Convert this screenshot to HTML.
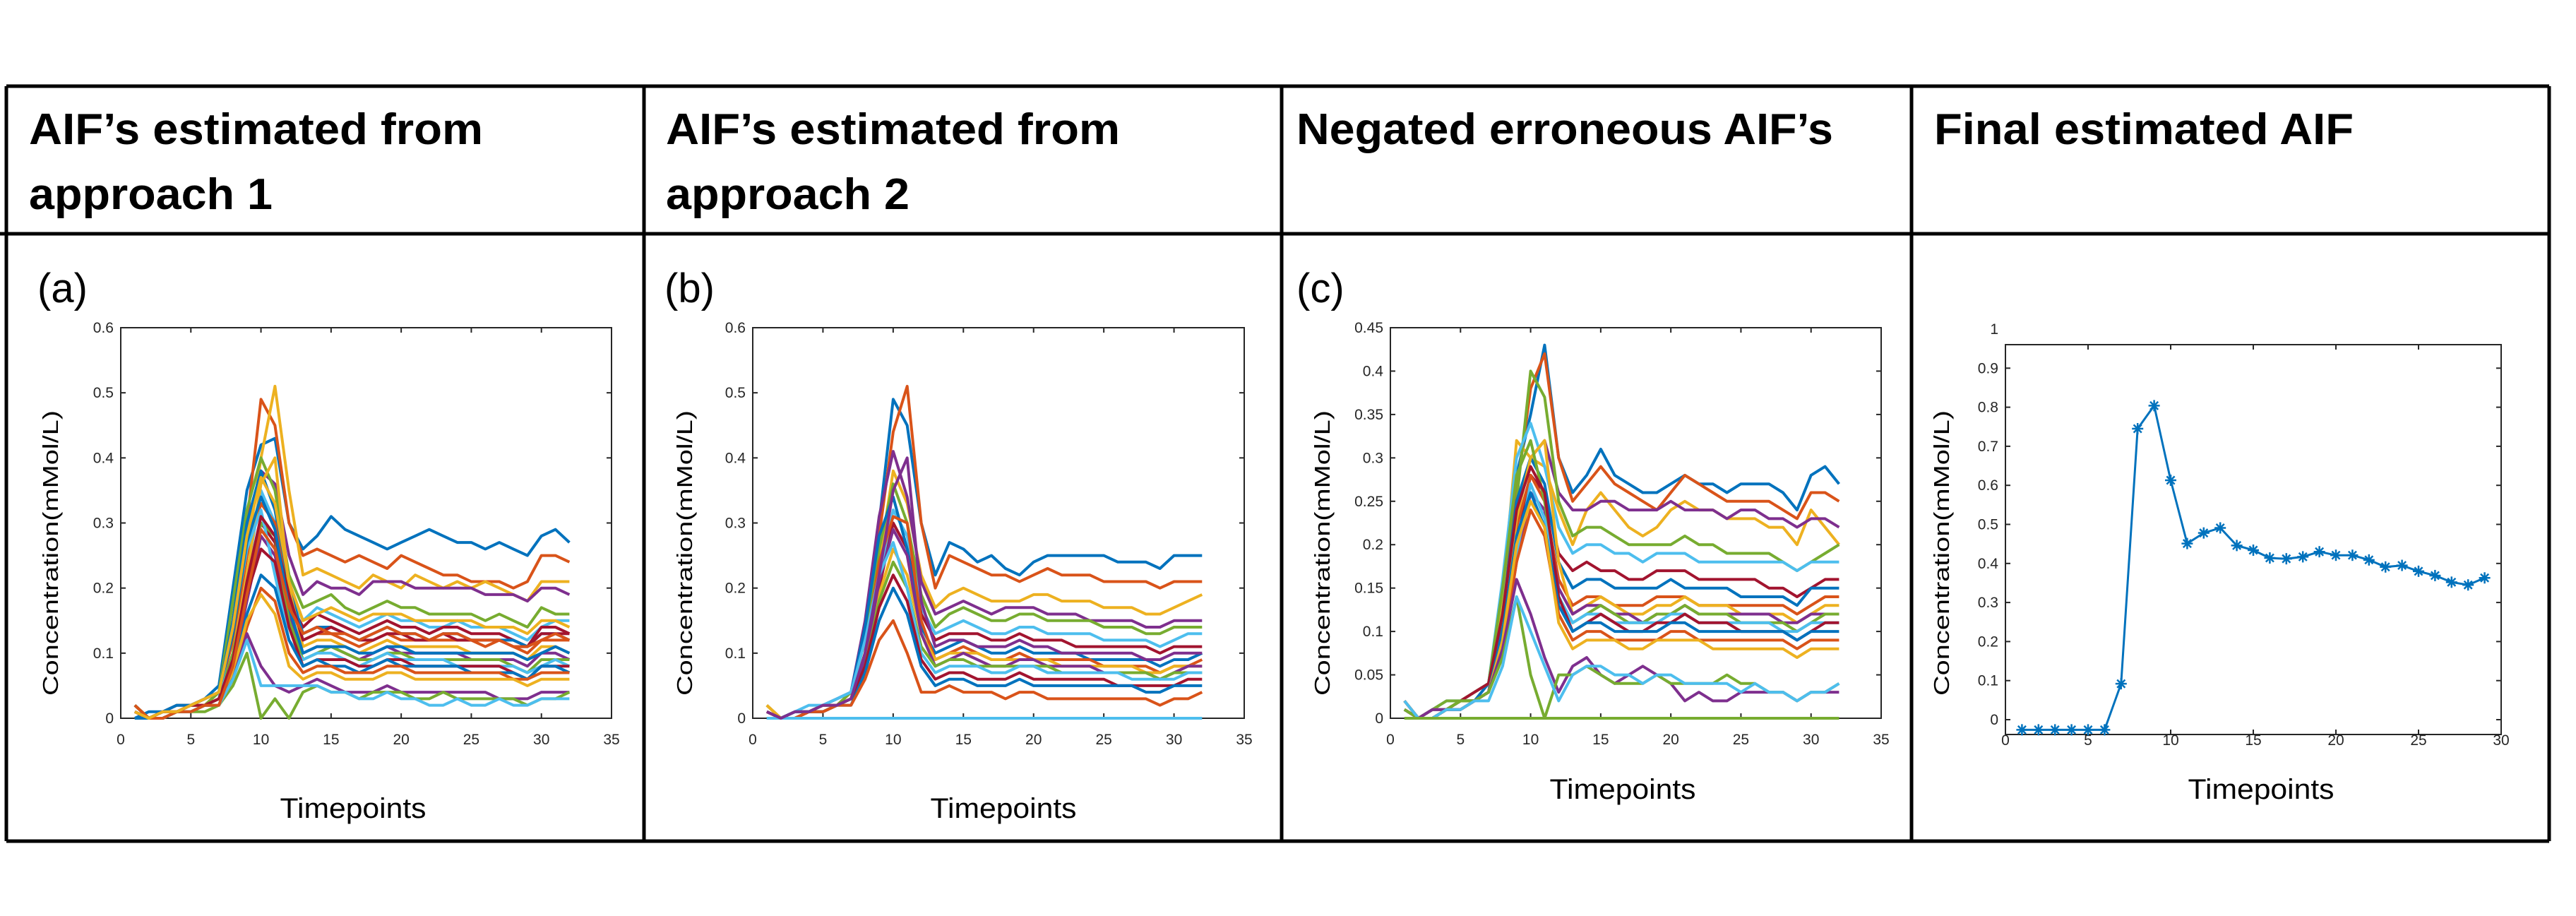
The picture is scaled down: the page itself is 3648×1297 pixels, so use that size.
<!DOCTYPE html>
<html><head><meta charset="utf-8"><style>
html,body{margin:0;padding:0;background:#fff;}
svg{display:block;}
.hdr{font-family:"Liberation Sans",sans-serif;font-weight:bold;font-size:62px;fill:#000;}
.lbl{font-family:"Liberation Sans",sans-serif;font-size:58px;fill:#000;}
.ax{font-family:"Liberation Sans",sans-serif;font-size:21px;fill:#262626;}
.ttl{font-family:"Liberation Sans",sans-serif;font-size:40px;fill:#000;}
.yl{font-family:"Liberation Sans",sans-serif;font-size:31px;fill:#000;}
</style></head><body>
<svg id="fig" width="3648" height="1297" viewBox="0 0 3648 1297" xmlns="http://www.w3.org/2000/svg">
<rect x="0" y="0" width="3648" height="1297" fill="#fff"/>
<g stroke="#000" stroke-width="5" fill="none">
<line x1="9" y1="122" x2="3610" y2="122"/>
<line x1="0" y1="331" x2="3610" y2="331"/>
<line x1="9" y1="1191" x2="3610" y2="1191"/>
<line x1="9" y1="122" x2="9" y2="1191"/>
<line x1="912" y1="122" x2="912" y2="1191"/>
<line x1="1815" y1="122" x2="1815" y2="1191"/>
<line x1="2707" y1="122" x2="2707" y2="1191"/>
<line x1="3610" y1="122" x2="3610" y2="1191"/>
</g>
<text class="hdr" x="41" y="204" textLength="643" lengthAdjust="spacingAndGlyphs">AIF’s estimated from</text>
<text class="hdr" x="41" y="296" textLength="345" lengthAdjust="spacingAndGlyphs">approach 1</text>
<text class="hdr" x="943" y="204" textLength="643" lengthAdjust="spacingAndGlyphs">AIF’s estimated from</text>
<text class="hdr" x="943" y="296" textLength="345" lengthAdjust="spacingAndGlyphs">approach 2</text>
<text class="hdr" x="1836" y="204" textLength="760" lengthAdjust="spacingAndGlyphs">Negated erroneous AIF’s</text>
<text class="hdr" x="2739" y="204" textLength="594" lengthAdjust="spacingAndGlyphs">Final estimated AIF</text>
<text class="lbl" x="53" y="428">(a)</text>
<text class="lbl" x="941" y="428">(b)</text>
<text class="lbl" x="1836" y="428">(c)</text>
</svg>
<script>
const timepoints = [1,2,3,4,5,6,7,8,9,10,11,12,13,14,15,16,17,18,19,20,21,22,23,24,25,26,27,28,29,30,31,32];
const xTicksABC = [0,5,10,15,20,25,30,35];
const yTicksAB = [0,0.1,0.2,0.3,0.4,0.5,0.6];
const yTicksC = [0,0.05,0.1,0.15,0.2,0.25,0.3,0.35,0.4,0.45];
const colorOrder = ["#0072BD","#D95319","#EDB120","#7E2F8E","#77AC30","#4DBEEE","#A2142F"];

const seriesA = [
[0.00,0.01,0.01,0.02,0.02,0.03,0.05,0.20,0.35,0.42,0.43,0.30,0.26,0.28,0.31,0.29,0.28,0.27,0.26,0.27,0.28,0.29,0.28,0.27,0.27,0.26,0.27,0.26,0.25,0.28,0.29,0.27],
[0.01,0.00,0.01,0.01,0.02,0.02,0.04,0.15,0.30,0.49,0.45,0.30,0.25,0.26,0.25,0.24,0.25,0.24,0.23,0.25,0.24,0.23,0.22,0.22,0.21,0.21,0.21,0.20,0.21,0.25,0.25,0.24],
[0.02,0.00,0.00,0.01,0.01,0.02,0.03,0.10,0.25,0.40,0.51,0.35,0.22,0.23,0.22,0.21,0.20,0.22,0.21,0.20,0.22,0.21,0.20,0.21,0.20,0.21,0.20,0.19,0.18,0.21,0.21,0.21],
[0.01,0.00,0.01,0.01,0.02,0.03,0.04,0.12,0.28,0.38,0.36,0.25,0.19,0.21,0.20,0.20,0.19,0.21,0.21,0.21,0.20,0.20,0.20,0.20,0.20,0.19,0.19,0.19,0.18,0.20,0.20,0.19],
[0.00,0.00,0.01,0.01,0.02,0.02,0.04,0.18,0.32,0.40,0.35,0.22,0.17,0.18,0.19,0.17,0.16,0.17,0.18,0.17,0.17,0.16,0.16,0.16,0.16,0.15,0.16,0.15,0.14,0.17,0.16,0.16],
[0.02,0.00,0.00,0.01,0.01,0.02,0.03,0.10,0.22,0.35,0.30,0.20,0.15,0.17,0.16,0.15,0.14,0.15,0.16,0.15,0.15,0.14,0.14,0.15,0.14,0.14,0.14,0.13,0.12,0.14,0.15,0.15],
[0.01,0.00,0.01,0.01,0.02,0.02,0.03,0.08,0.20,0.30,0.27,0.18,0.14,0.16,0.15,0.14,0.13,0.14,0.15,0.14,0.14,0.13,0.14,0.14,0.13,0.13,0.13,0.12,0.11,0.14,0.14,0.13],
[0.00,0.00,0.01,0.01,0.02,0.03,0.04,0.15,0.30,0.38,0.32,0.20,0.13,0.14,0.14,0.13,0.12,0.13,0.14,0.13,0.13,0.12,0.13,0.13,0.12,0.12,0.12,0.12,0.11,0.13,0.13,0.12],
[0.01,0.00,0.01,0.02,0.02,0.03,0.04,0.12,0.25,0.33,0.30,0.18,0.12,0.13,0.13,0.12,0.11,0.12,0.13,0.12,0.12,0.12,0.12,0.12,0.12,0.11,0.12,0.11,0.10,0.12,0.12,0.12],
[0.01,0.00,0.00,0.01,0.02,0.02,0.03,0.10,0.22,0.36,0.40,0.20,0.11,0.12,0.12,0.11,0.10,0.11,0.12,0.11,0.11,0.11,0.11,0.11,0.10,0.10,0.10,0.10,0.09,0.11,0.11,0.10],
[0.02,0.00,0.00,0.01,0.01,0.02,0.02,0.08,0.18,0.28,0.25,0.16,0.10,0.11,0.11,0.10,0.09,0.10,0.11,0.10,0.10,0.10,0.10,0.10,0.09,0.09,0.09,0.09,0.08,0.10,0.10,0.09],
[0.01,0.00,0.01,0.01,0.01,0.02,0.03,0.10,0.20,0.30,0.28,0.15,0.09,0.10,0.11,0.10,0.09,0.09,0.10,0.10,0.09,0.09,0.09,0.09,0.09,0.09,0.09,0.08,0.07,0.09,0.09,0.09],
[0.00,0.00,0.01,0.01,0.02,0.02,0.03,0.14,0.26,0.32,0.22,0.12,0.09,0.10,0.10,0.09,0.08,0.09,0.10,0.09,0.09,0.09,0.09,0.08,0.08,0.08,0.08,0.08,0.07,0.08,0.09,0.08],
[0.01,0.00,0.00,0.01,0.02,0.02,0.03,0.09,0.19,0.26,0.24,0.14,0.08,0.09,0.09,0.09,0.08,0.08,0.09,0.09,0.08,0.08,0.08,0.08,0.08,0.08,0.08,0.07,0.06,0.08,0.08,0.08],
[0.02,0.00,0.00,0.01,0.01,0.02,0.02,0.07,0.16,0.22,0.20,0.12,0.08,0.09,0.08,0.08,0.07,0.08,0.09,0.08,0.08,0.08,0.08,0.08,0.07,0.07,0.07,0.07,0.06,0.08,0.08,0.07],
[0.01,0.00,0.01,0.01,0.01,0.02,0.02,0.06,0.14,0.20,0.18,0.10,0.07,0.08,0.08,0.07,0.07,0.07,0.08,0.08,0.07,0.07,0.07,0.07,0.07,0.07,0.07,0.06,0.06,0.07,0.07,0.07],
[0.00,0.00,0.01,0.01,0.02,0.02,0.03,0.07,0.15,0.19,0.16,0.08,0.06,0.07,0.07,0.06,0.06,0.06,0.07,0.07,0.06,0.06,0.06,0.06,0.06,0.06,0.06,0.06,0.05,0.06,0.06,0.06],
[0.01,0.00,0.00,0.01,0.01,0.02,0.02,0.06,0.13,0.08,0.05,0.04,0.05,0.06,0.05,0.04,0.04,0.04,0.05,0.04,0.04,0.04,0.04,0.04,0.04,0.04,0.03,0.03,0.03,0.04,0.04,0.04],
[0.02,0.00,0.00,0.01,0.01,0.01,0.02,0.05,0.10,0.00,0.03,0.00,0.04,0.05,0.04,0.04,0.03,0.04,0.04,0.04,0.03,0.03,0.04,0.03,0.03,0.03,0.03,0.03,0.02,0.03,0.03,0.04],
[0.01,0.00,0.00,0.01,0.01,0.02,0.02,0.06,0.12,0.05,0.05,0.05,0.05,0.05,0.04,0.04,0.03,0.03,0.04,0.03,0.03,0.02,0.02,0.03,0.02,0.02,0.03,0.02,0.02,0.03,0.03,0.03],
[0.01,0.00,0.01,0.01,0.02,0.02,0.03,0.09,0.21,0.31,0.28,0.19,0.12,0.13,0.14,0.13,0.12,0.12,0.13,0.13,0.12,0.12,0.13,0.12,0.12,0.12,0.12,0.11,0.11,0.13,0.13,0.13],
[0.00,0.00,0.01,0.02,0.02,0.03,0.04,0.13,0.27,0.34,0.29,0.17,0.10,0.11,0.11,0.11,0.10,0.10,0.11,0.11,0.10,0.10,0.10,0.10,0.10,0.10,0.10,0.10,0.09,0.10,0.11,0.10],
[0.02,0.00,0.00,0.01,0.01,0.02,0.02,0.08,0.19,0.29,0.26,0.17,0.13,0.14,0.13,0.13,0.12,0.13,0.14,0.13,0.13,0.12,0.13,0.13,0.12,0.12,0.12,0.11,0.11,0.12,0.13,0.12],
[0.01,0.00,0.01,0.01,0.02,0.03,0.04,0.14,0.28,0.37,0.33,0.21,0.15,0.16,0.17,0.16,0.15,0.16,0.16,0.16,0.15,0.15,0.15,0.15,0.15,0.14,0.14,0.14,0.13,0.15,0.15,0.14]
];

const seriesB = [
[0.02,0.00,0.00,0.01,0.01,0.02,0.03,0.10,0.30,0.49,0.45,0.30,0.22,0.27,0.26,0.24,0.25,0.23,0.22,0.24,0.25,0.25,0.25,0.25,0.25,0.24,0.24,0.24,0.23,0.25,0.25,0.25],
[0.01,0.00,0.01,0.01,0.02,0.02,0.04,0.12,0.28,0.44,0.51,0.30,0.20,0.25,0.24,0.23,0.22,0.22,0.21,0.22,0.23,0.22,0.22,0.22,0.21,0.21,0.21,0.21,0.20,0.21,0.21,0.21],
[0.02,0.00,0.00,0.01,0.01,0.02,0.03,0.10,0.24,0.38,0.33,0.22,0.17,0.19,0.20,0.19,0.18,0.18,0.18,0.19,0.19,0.18,0.18,0.18,0.17,0.17,0.17,0.16,0.16,0.17,0.18,0.19],
[0.00,0.00,0.01,0.01,0.02,0.03,0.04,0.15,0.31,0.41,0.34,0.21,0.16,0.17,0.18,0.17,0.16,0.17,0.17,0.17,0.16,0.16,0.16,0.15,0.15,0.15,0.15,0.14,0.14,0.15,0.15,0.15],
[0.01,0.00,0.01,0.01,0.02,0.02,0.04,0.12,0.26,0.36,0.30,0.19,0.14,0.16,0.17,0.16,0.15,0.15,0.16,0.16,0.15,0.15,0.15,0.15,0.14,0.14,0.14,0.13,0.13,0.14,0.14,0.14],
[0.01,0.00,0.00,0.01,0.02,0.02,0.03,0.10,0.22,0.32,0.28,0.17,0.13,0.14,0.15,0.14,0.13,0.13,0.14,0.14,0.13,0.13,0.13,0.13,0.12,0.12,0.12,0.12,0.11,0.12,0.13,0.13],
[0.01,0.00,0.01,0.01,0.01,0.02,0.03,0.09,0.20,0.30,0.26,0.16,0.12,0.13,0.13,0.13,0.12,0.12,0.13,0.12,0.12,0.12,0.11,0.11,0.11,0.11,0.11,0.11,0.10,0.11,0.11,0.11],
[0.00,0.00,0.01,0.01,0.02,0.03,0.04,0.14,0.28,0.34,0.26,0.14,0.10,0.11,0.12,0.11,0.10,0.10,0.11,0.10,0.10,0.10,0.10,0.09,0.09,0.09,0.09,0.09,0.08,0.09,0.09,0.10],
[0.01,0.00,0.00,0.01,0.02,0.02,0.03,0.10,0.24,0.31,0.30,0.15,0.09,0.10,0.11,0.10,0.09,0.09,0.10,0.09,0.09,0.09,0.09,0.09,0.08,0.08,0.08,0.08,0.07,0.08,0.08,0.09],
[0.02,0.00,0.00,0.01,0.01,0.02,0.03,0.08,0.19,0.26,0.22,0.13,0.09,0.10,0.10,0.10,0.09,0.09,0.09,0.09,0.09,0.08,0.08,0.08,0.08,0.08,0.08,0.07,0.07,0.08,0.08,0.08],
[0.01,0.00,0.01,0.01,0.02,0.02,0.03,0.09,0.21,0.29,0.25,0.13,0.08,0.09,0.10,0.09,0.08,0.08,0.09,0.09,0.08,0.08,0.08,0.08,0.07,0.07,0.07,0.07,0.06,0.07,0.08,0.08],
[0.00,0.00,0.01,0.01,0.02,0.02,0.03,0.08,0.18,0.24,0.20,0.11,0.08,0.09,0.09,0.08,0.08,0.08,0.08,0.08,0.08,0.07,0.07,0.07,0.07,0.07,0.07,0.07,0.06,0.07,0.07,0.07],
[0.00,0.00,0.01,0.02,0.02,0.03,0.04,0.12,0.22,0.27,0.20,0.10,0.07,0.08,0.08,0.08,0.07,0.07,0.08,0.08,0.07,0.07,0.07,0.07,0.07,0.07,0.06,0.06,0.06,0.06,0.07,0.07],
[0.01,0.00,0.00,0.01,0.01,0.02,0.03,0.08,0.17,0.22,0.18,0.09,0.06,0.07,0.07,0.06,0.06,0.06,0.07,0.06,0.06,0.06,0.06,0.06,0.06,0.05,0.05,0.05,0.05,0.05,0.06,0.06],
[0.01,0.00,0.01,0.01,0.01,0.02,0.02,0.07,0.15,0.20,0.16,0.08,0.05,0.06,0.06,0.05,0.05,0.05,0.06,0.05,0.05,0.05,0.05,0.05,0.05,0.05,0.05,0.04,0.04,0.05,0.05,0.05],
[0.01,0.00,0.00,0.01,0.01,0.02,0.02,0.06,0.12,0.15,0.10,0.04,0.04,0.05,0.04,0.04,0.04,0.03,0.04,0.04,0.03,0.03,0.03,0.03,0.03,0.03,0.03,0.03,0.02,0.03,0.03,0.04],
[0,0,0,0,0,0,0,0,0,0,0,0,0,0,0,0,0,0,0,0,0,0,0,0,0,0,0,0,0,0,0,0],
[0.01,0.00,0.01,0.01,0.02,0.02,0.03,0.10,0.22,0.35,0.40,0.18,0.11,0.12,0.12,0.11,0.11,0.11,0.12,0.11,0.11,0.10,0.10,0.10,0.10,0.10,0.10,0.09,0.09,0.10,0.10,0.10]
];

const seriesC = [
[0.01,0.00,0.01,0.01,0.02,0.02,0.04,0.15,0.28,0.35,0.43,0.30,0.26,0.28,0.31,0.28,0.27,0.26,0.26,0.27,0.28,0.27,0.27,0.26,0.27,0.27,0.27,0.26,0.24,0.28,0.29,0.27],
[0.02,0.00,0.00,0.01,0.02,0.02,0.03,0.12,0.26,0.38,0.42,0.30,0.25,0.27,0.29,0.27,0.26,0.25,0.24,0.26,0.28,0.27,0.26,0.25,0.25,0.25,0.25,0.24,0.23,0.26,0.26,0.25],
[0.01,0.00,0.01,0.01,0.02,0.03,0.04,0.14,0.32,0.30,0.29,0.24,0.20,0.24,0.26,0.24,0.22,0.21,0.22,0.24,0.25,0.24,0.24,0.23,0.23,0.23,0.22,0.22,0.20,0.24,0.22,0.20],
[0.01,0.00,0.00,0.01,0.02,0.02,0.03,0.11,0.24,0.30,0.32,0.26,0.24,0.24,0.25,0.25,0.24,0.24,0.24,0.25,0.24,0.24,0.24,0.23,0.24,0.24,0.23,0.23,0.22,0.23,0.23,0.22],
[0.02,0.00,0.00,0.01,0.01,0.02,0.03,0.10,0.25,0.40,0.37,0.25,0.21,0.22,0.22,0.21,0.20,0.20,0.20,0.20,0.21,0.20,0.20,0.19,0.19,0.19,0.19,0.18,0.17,0.18,0.19,0.20],
[0.00,0.00,0.01,0.02,0.02,0.03,0.04,0.16,0.30,0.34,0.29,0.22,0.19,0.20,0.20,0.19,0.19,0.18,0.19,0.19,0.19,0.18,0.18,0.18,0.18,0.18,0.18,0.18,0.17,0.18,0.18,0.18],
[0.01,0.00,0.00,0.01,0.02,0.02,0.03,0.09,0.20,0.28,0.26,0.19,0.17,0.18,0.17,0.17,0.16,0.16,0.17,0.17,0.17,0.16,0.16,0.16,0.16,0.16,0.15,0.15,0.14,0.15,0.16,0.16],
[0.01,0.00,0.01,0.01,0.02,0.02,0.03,0.12,0.25,0.30,0.27,0.18,0.15,0.16,0.16,0.15,0.15,0.15,0.15,0.16,0.15,0.15,0.15,0.15,0.14,0.14,0.14,0.14,0.13,0.15,0.15,0.15],
[0.02,0.00,0.00,0.01,0.01,0.02,0.03,0.09,0.22,0.28,0.25,0.16,0.13,0.14,0.14,0.13,0.13,0.13,0.14,0.14,0.14,0.13,0.13,0.13,0.13,0.13,0.13,0.13,0.12,0.13,0.14,0.14],
[0.01,0.00,0.01,0.01,0.02,0.02,0.03,0.10,0.23,0.30,0.32,0.18,0.12,0.13,0.14,0.13,0.12,0.12,0.13,0.13,0.14,0.13,0.13,0.13,0.12,0.12,0.12,0.12,0.11,0.12,0.13,0.13],
[0.01,0.00,0.00,0.01,0.01,0.02,0.03,0.08,0.18,0.26,0.24,0.15,0.12,0.13,0.13,0.12,0.12,0.11,0.12,0.12,0.13,0.12,0.12,0.12,0.12,0.12,0.12,0.11,0.11,0.12,0.12,0.12],
[0.00,0.00,0.01,0.02,0.02,0.03,0.04,0.15,0.28,0.32,0.25,0.14,0.11,0.12,0.13,0.12,0.11,0.11,0.12,0.12,0.13,0.12,0.12,0.12,0.11,0.11,0.11,0.11,0.10,0.11,0.12,0.12],
[0.01,0.00,0.01,0.01,0.01,0.02,0.03,0.08,0.19,0.27,0.23,0.14,0.11,0.12,0.12,0.11,0.11,0.11,0.11,0.12,0.12,0.11,0.11,0.11,0.11,0.11,0.11,0.10,0.10,0.11,0.11,0.11],
[0.00,0.00,0.01,0.01,0.02,0.03,0.04,0.12,0.24,0.29,0.26,0.14,0.10,0.11,0.12,0.11,0.10,0.10,0.11,0.11,0.12,0.11,0.11,0.11,0.10,0.10,0.10,0.10,0.09,0.10,0.11,0.11],
[0.01,0.00,0.01,0.01,0.02,0.02,0.03,0.10,0.21,0.26,0.22,0.13,0.10,0.11,0.11,0.10,0.10,0.10,0.10,0.11,0.11,0.10,0.10,0.10,0.10,0.10,0.10,0.10,0.09,0.10,0.10,0.10],
[0.02,0.00,0.00,0.01,0.01,0.02,0.03,0.08,0.18,0.24,0.21,0.12,0.09,0.10,0.10,0.09,0.09,0.09,0.09,0.10,0.10,0.09,0.09,0.09,0.09,0.09,0.09,0.09,0.08,0.09,0.09,0.09],
[0.01,0.00,0.01,0.01,0.02,0.02,0.03,0.09,0.20,0.25,0.22,0.11,0.08,0.09,0.09,0.09,0.08,0.08,0.09,0.09,0.09,0.09,0.08,0.08,0.08,0.08,0.08,0.08,0.07,0.08,0.08,0.08],
[0.01,0.00,0.01,0.01,0.01,0.02,0.03,0.08,0.16,0.12,0.07,0.03,0.06,0.07,0.05,0.04,0.05,0.06,0.05,0.04,0.02,0.03,0.02,0.02,0.03,0.03,0.03,0.03,0.02,0.03,0.03,0.03],
[0.01,0.00,0.00,0.01,0.02,0.02,0.03,0.07,0.14,0.05,0.00,0.05,0.05,0.06,0.05,0.04,0.04,0.04,0.05,0.04,0.04,0.04,0.04,0.05,0.04,0.04,0.03,0.03,0.02,0.03,0.03,0.04],
[0.02,0.00,0.00,0.01,0.01,0.02,0.02,0.06,0.14,0.10,0.06,0.02,0.05,0.06,0.06,0.05,0.05,0.04,0.05,0.05,0.04,0.04,0.04,0.04,0.03,0.04,0.03,0.03,0.02,0.03,0.03,0.04],
[0,0,0,0,0,0,0,0,0,0,0,0,0,0,0,0,0,0,0,0,0,0,0,0,0,0,0,0,0,0,0,0]
];

const finalTime = [1,2,3,4,5,6,7,8,9,10,11,12,13,14,15,16,17,18,19,20,21,22,23,24,25,26,27,28,29];
const finalAIF = [-0.026,-0.026,-0.026,-0.026,-0.026,-0.026,0.092,0.745,0.804,0.613,0.451,0.478,0.491,0.446,0.434,0.414,0.412,0.417,0.43,0.421,0.421,0.409,0.391,0.395,0.38,0.369,0.352,0.345,0.363];
const xTicksD = [0,5,10,15,20,25,30];
const yTicksD = [0,0.1,0.2,0.3,0.4,0.5,0.6,0.7,0.8,0.9,1];

const NS = "http://www.w3.org/2000/svg";
const svg = document.getElementById("fig");
function mk(tag, attrs, parent) {
  const e = document.createElementNS(NS, tag);
  for (const k in attrs) e.setAttribute(k, attrs[k]);
  (parent || svg).appendChild(e);
  return e;
}
function fmt(v) { return String(+v.toFixed(2)); }

function axes(p) {
  const g = mk("g", {});
  
  
  const sx = v => p.bx0 + (v - p.xmin) / (p.xmax - p.xmin) * (p.bx1 - p.bx0);
  const sy = v => p.zy - (v - p.ymin0) / (p.ymax0 - p.ymin0) * (p.zy - p.oy);
  const box = mk("rect", {x:p.bx0, y:p.by0, width:p.bx1-p.bx0, height:p.by1-p.by0, fill:"#fff", stroke:"#262626", "stroke-width":2}, g);
  
  
  p.xt.forEach(t => {
    const x = sx(t);
    mk("line", {x1:x, y1:p.by1, x2:x, y2:p.by1-7, stroke:"#262626", "stroke-width":2}, g);
    mk("line", {x1:x, y1:p.by0, x2:x, y2:p.by0+7, stroke:"#262626", "stroke-width":2}, g);
    const tl = mk("text", {x:x, y:p.xly, "text-anchor":"middle", class:"ax"}, g);
    
    
    tl.textContent = fmt(t);
  });
  p.yt.forEach(t => {
    const y = sy(t);
    if (y >= p.by0 - 1 && y <= p.by1 + 1) {
      mk("line", {x1:p.bx0, y1:y, x2:p.bx0+7, y2:y, stroke:"#262626", "stroke-width":2}, g);
      mk("line", {x1:p.bx1, y1:y, x2:p.bx1-7, y2:y, stroke:"#262626", "stroke-width":2}, g);
    }
    const tl = mk("text", {x:p.bx0 - 10, y:y + 7, "text-anchor":"end", class:"ax"}, g);
    
    
    tl.textContent = fmt(t);
  });
  const yl = mk("text", {x:0, y:0, "text-anchor":"middle", class:"yl", transform:`translate(${p.ylx},${p.yly}) rotate(-90)`, textLength:404, lengthAdjust:"spacingAndGlyphs"}, g);
  
  
  yl.textContent = "Concentration(mMol/L)";
  const xl = mk("text", {x:p.xtx, y:p.xty, "text-anchor":"middle", class:"ttl", textLength:207, lengthAdjust:"spacingAndGlyphs"}, g);
  
  
  xl.textContent = "Timepoints";
  return {g, sx, sy};
}

function spaghetti(p, series) {
  const a = axes(p);
  const lines = mk("g", {fill:"none", "stroke-width":4, "stroke-linejoin":"round"}, a.g);
  
  
  series.forEach((s, i) => {
    const d = s.map((v, j) => (j ? "L" : "M") + a.sx(timepoints[j]).toFixed(1) + "," + a.sy(Math.max(v, p.ymin0)).toFixed(1)).join("");
    const col = s.every(v => v === 0) ? (p.flatColor) : colorOrder[i % colorOrder.length];
    const path = mk("path", {d:d, stroke:col}, lines);
    
    
  });
}

spaghetti({name:"chart-a", bx0:171, bx1:866, by0:464, by1:1017, xmin:0, xmax:35, ymin0:0, ymax0:0.6, zy:1017, oy:464,
  xt:xTicksABC, yt:yTicksAB, xly:1054, ylx:82, yly:783, xtx:500, xty:1158, flatColor:"#4DBEEE"}, seriesA);
spaghetti({name:"chart-b", bx0:1066, bx1:1762, by0:464, by1:1017, xmin:0, xmax:35, ymin0:0, ymax0:0.6, zy:1017, oy:464,
  xt:xTicksABC, yt:yTicksAB, xly:1054, ylx:980, yly:783, xtx:1421, xty:1158, flatColor:"#4DBEEE"}, seriesB);
spaghetti({name:"chart-c", bx0:1969, bx1:2664, by0:464, by1:1017, xmin:0, xmax:35, ymin0:0, ymax0:0.45, zy:1017, oy:464,
  xt:xTicksABC, yt:yTicksC, xly:1054, ylx:1883, yly:783, xtx:2298, xty:1131, flatColor:"#77AC30"}, seriesC);

(function(){
  const p = {name:"chart-d", bx0:2840, bx1:3542, by0:488, by1:1040, xmin:0, xmax:30, ymin0:0, ymax0:1, zy:1019, oy:466,
    xt:xTicksD, yt:yTicksD, xly:1055, ylx:2760, yly:783, xtx:3202, xty:1131};
  const a = axes(p);
  const d = finalAIF.map((v, j) => (j ? "L" : "M") + a.sx(finalTime[j]).toFixed(1) + "," + a.sy(v).toFixed(1)).join("");
  const line = mk("path", {d:d, fill:"none", stroke:"#0072BD", "stroke-width":3}, a.g);
  
  
  finalAIF.forEach((v, j) => {
    const x = a.sx(finalTime[j]), y = a.sy(v), r = 8;
    const m = mk("g", {stroke:"#0072BD", "stroke-width":2.5}, a.g);
    
    
    mk("line", {x1:x-r, y1:y, x2:x+r, y2:y}, m);
    mk("line", {x1:x, y1:y-r, x2:x, y2:y+r}, m);
    mk("line", {x1:x-r*0.7, y1:y-r*0.7, x2:x+r*0.7, y2:y+r*0.7}, m);
    mk("line", {x1:x-r*0.7, y1:y+r*0.7, x2:x+r*0.7, y2:y-r*0.7}, m);
  });
})();
</script>
</body></html>
